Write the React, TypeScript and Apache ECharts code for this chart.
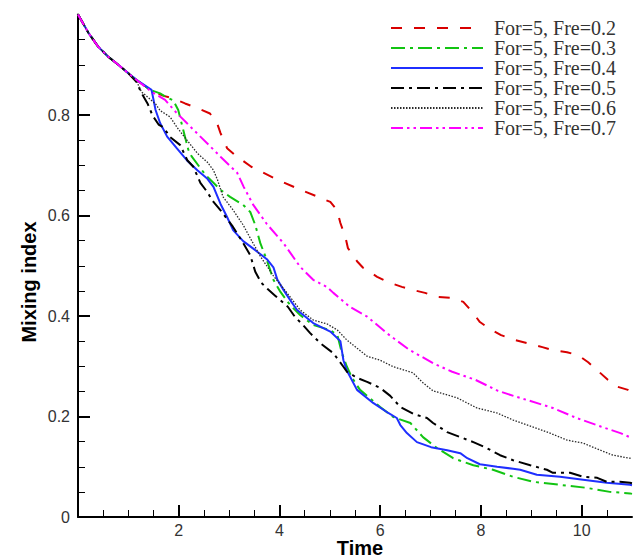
import React, { useEffect, useRef } from "react";
import * as echarts from "echarts";

const SERIES_NAMES = [
  "For=5, Fre=0.2",
  "For=5, Fre=0.3",
  "For=5, Fre=0.4",
  "For=5, Fre=0.5",
  "For=5, Fre=0.6",
  "For=5, Fre=0.7",
];

const X_TICK_LABELS = [2, 4, 6, 8, 10];
const Y_TICK_LABELS = [0, 0.2, 0.4, 0.6, 0.8];

// shared initial decay (all runs coincide)
const commonStart: [number, number][] = [
  [0, 1.0], [0.21, 0.963], [0.4, 0.936], [0.6, 0.916], [0.8, 0.9], [1.0, 0.883],
];

const fre02: [number, number][] = [
  [1.16, 0.87], [1.46, 0.848], [1.7, 0.838], [1.89, 0.833], [2.125, 0.823], [2.39, 0.813],
  [2.62, 0.803], [2.76, 0.784], [2.83, 0.764], [2.96, 0.734], [3.12, 0.72], [3.44, 0.697],
  [3.92, 0.673], [4.42, 0.651], [4.77, 0.637], [5.01, 0.627], [5.14, 0.611], [5.21, 0.585],
  [5.31, 0.557], [5.36, 0.535], [5.54, 0.509], [5.66, 0.496], [5.94, 0.478], [6.14, 0.468],
  [6.43, 0.458], [6.64, 0.452], [6.89, 0.446], [7.13, 0.438], [7.43, 0.436], [7.65, 0.428],
  [7.83, 0.408], [7.98, 0.388], [8.18, 0.374], [8.4, 0.362], [8.68, 0.352], [8.92, 0.346],
  [9.22, 0.338], [9.43, 0.332], [9.71, 0.328], [9.93, 0.322], [10.13, 0.308], [10.3, 0.293],
  [10.52, 0.273], [10.72, 0.259], [10.92, 0.253], [11, 0.249],
];

const fre03: [number, number][] = [
  [1.16, 0.87], [1.43, 0.85], [1.63, 0.843], [1.75, 0.836], [1.89, 0.829], [1.99, 0.81],
  [2.09, 0.77], [2.19, 0.731], [2.26, 0.717], [2.53, 0.681], [2.83, 0.651], [3.02, 0.637],
  [3.28, 0.621], [3.42, 0.607], [3.52, 0.581], [3.62, 0.545], [3.75, 0.511], [3.88, 0.472],
  [4.02, 0.448], [4.21, 0.422], [4.41, 0.402], [4.67, 0.382], [5.01, 0.372], [5.15, 0.362],
  [5.24, 0.326], [5.34, 0.299], [5.44, 0.277], [5.6, 0.253], [6.0, 0.219], [6.26, 0.199],
  [6.6, 0.187], [6.85, 0.159], [7.13, 0.137], [7.45, 0.117], [7.85, 0.103], [8.24, 0.094],
  [8.64, 0.08], [9.04, 0.07], [9.57, 0.064], [10.1, 0.058], [10.56, 0.05], [10.96, 0.047],
  [11, 0.046],
];

const fre04: [number, number][] = [
  [1.16, 0.87], [1.46, 0.85], [1.54, 0.81], [1.63, 0.784], [1.77, 0.757], [1.96, 0.734],
  [2.16, 0.71], [2.37, 0.69], [2.57, 0.673], [2.69, 0.657], [2.83, 0.623], [2.96, 0.597],
  [3.08, 0.571], [3.28, 0.549], [3.52, 0.531], [3.75, 0.513], [3.88, 0.497], [3.96, 0.472],
  [4.08, 0.452], [4.21, 0.432], [4.35, 0.412], [4.67, 0.386], [5.01, 0.369], [5.21, 0.35],
  [5.27, 0.312], [5.34, 0.291], [5.54, 0.253], [5.86, 0.227], [6.16, 0.207], [6.33, 0.197],
  [6.4, 0.183], [6.53, 0.167], [6.73, 0.149], [7.01, 0.139], [7.33, 0.133], [7.59, 0.127],
  [7.73, 0.117], [7.98, 0.105], [8.32, 0.1], [8.64, 0.096], [8.78, 0.094], [9.11, 0.084],
  [9.57, 0.08], [10.03, 0.074], [10.5, 0.068], [10.96, 0.064], [11, 0.063],
];

const fre05: [number, number][] = [
  [1.16, 0.866], [1.26, 0.844], [1.38, 0.823], [1.48, 0.799], [1.6, 0.781], [1.7, 0.775],
  [1.83, 0.756], [2.03, 0.74], [2.17, 0.71], [2.29, 0.697], [2.43, 0.665], [2.55, 0.649],
  [2.69, 0.627], [2.84, 0.609], [3.06, 0.58], [3.28, 0.545], [3.42, 0.521], [3.52, 0.488],
  [3.64, 0.466], [3.76, 0.454], [3.92, 0.44], [4.17, 0.418], [4.31, 0.398], [4.47, 0.382],
  [4.61, 0.366], [4.81, 0.346], [5.07, 0.326], [5.27, 0.299], [5.34, 0.289], [5.54, 0.277],
  [5.74, 0.269], [6.0, 0.257], [6.2, 0.241], [6.4, 0.219], [6.66, 0.205], [6.93, 0.197],
  [7.05, 0.187], [7.33, 0.169], [7.59, 0.159], [7.85, 0.149], [8.12, 0.137], [8.38, 0.123],
  [8.64, 0.113], [8.98, 0.103], [9.31, 0.094], [9.43, 0.088], [9.77, 0.088], [10.03, 0.08],
  [10.31, 0.078], [10.5, 0.07], [10.76, 0.07], [10.96, 0.068], [11, 0.067],
];

const fre06: [number, number][] = [
  [1.16, 0.868], [1.26, 0.846], [1.38, 0.836], [1.54, 0.822], [1.63, 0.809], [1.83, 0.796],
  [1.97, 0.775], [2.17, 0.749], [2.37, 0.724], [2.57, 0.706], [2.69, 0.69], [2.77, 0.671],
  [2.88, 0.637], [3.08, 0.611], [3.28, 0.581], [3.42, 0.555], [3.62, 0.519], [3.88, 0.48],
  [4.15, 0.446], [4.41, 0.412], [4.67, 0.392], [4.95, 0.384], [5.15, 0.372], [5.34, 0.352],
  [5.74, 0.32], [6.0, 0.312], [6.26, 0.299], [6.65, 0.287], [6.85, 0.267], [7.05, 0.251],
  [7.33, 0.243], [7.53, 0.237], [7.92, 0.217], [8.32, 0.207], [8.64, 0.193], [9.04, 0.179],
  [9.37, 0.167], [9.71, 0.153], [10.03, 0.147], [10.37, 0.133], [10.62, 0.123], [10.96, 0.117],
  [11, 0.116],
];

const fre07: [number, number][] = [
  [1.16, 0.87], [1.46, 0.846], [1.73, 0.83], [1.95, 0.805], [2.16, 0.784], [2.43, 0.757],
  [2.83, 0.717], [3.16, 0.685], [3.29, 0.657], [3.48, 0.621], [3.75, 0.583], [4.08, 0.545],
  [4.41, 0.498], [4.67, 0.472], [4.94, 0.458], [5.07, 0.446], [5.4, 0.418], [5.74, 0.399],
  [6.13, 0.366], [6.56, 0.334], [7.05, 0.306], [7.43, 0.289], [7.89, 0.273], [8.34, 0.251],
  [8.71, 0.239], [8.91, 0.233], [9.43, 0.217], [9.9, 0.197], [10.38, 0.18], [10.77, 0.167],
  [11, 0.157],
];

const SERIES_DATA = [fre02, fre03, fre04, fre05, fre06, fre07];

const STYLES = [
  { color: "#d80000", width: 2, type: [11, 12] },
  { color: "#12c412", width: 2, type: [14, 5, 3, 5] },
  { color: "#1f2fff", width: 2, type: "solid" },
  { color: "#000000", width: 2, type: [13, 5, 3, 5] },
  { color: "#2a2a2a", width: 1.3, type: [1.5, 1.5] },
  { color: "#ff00ff", width: 2, type: [12, 4, 2.5, 4, 2.5, 4] },
];

export default function App() {
  const ref = useRef<HTMLDivElement>(null);

  useEffect(() => {
    if (!ref.current) return;
    const chart = echarts.init(ref.current, null, { renderer: "svg" });
    const axisFont = "Liberation Sans";
    chart.setOption({
      animation: false,
      backgroundColor: "#ffffff",
      grid: { left: 78, right: 8, top: 14.5, bottom: 43, containLabel: false },
      xAxis: {
        type: "value",
        min: 0,
        max: 11,
        interval: 2,
        splitLine: { show: false },
        axisLine: { show: true, lineStyle: { color: "#000", width: 2 } },
        axisTick: {
          show: true,
          inside: true,
          length: 12,
          lineStyle: { color: "#000", width: 2 },
          customValues: X_TICK_LABELS,
        },
        minorTick: { show: true, splitNumber: 4, length: 7, lineStyle: { color: "#000", width: 1 } },
        axisLabel: {
          show: true,
          margin: 5,
          color: "#333",
          fontFamily: axisFont,
          fontSize: 16,
          customValues: X_TICK_LABELS,
          formatter: (v: number) => String(v),
        },
      },
      yAxis: {
        type: "value",
        min: 0,
        max: 1,
        interval: 0.2,
        splitLine: { show: false },
        axisLine: { show: true, lineStyle: { color: "#000", width: 2 } },
        axisTick: {
          show: true,
          inside: true,
          length: 12,
          lineStyle: { color: "#000", width: 2 },
          customValues: Y_TICK_LABELS,
        },
        minorTick: { show: true, splitNumber: 4, length: 7, lineStyle: { color: "#000", width: 1 } },
        axisLabel: {
          show: true,
          margin: 8,
          color: "#333",
          fontFamily: axisFont,
          fontSize: 16,
          customValues: Y_TICK_LABELS,
          formatter: (v: number) => (v === 0 ? "0" : v.toFixed(1)),
        },
      },
      legend: {
        orient: "vertical",
        left: 390,
        top: 18,
        padding: 0,
        itemWidth: 92,
        itemHeight: 10,
        itemGap: 0,
        icon: "inherit",
        itemStyle: { opacity: 0 },
        selectedMode: false,
        data: SERIES_NAMES,
        textStyle: {
          fontFamily: "Liberation Serif",
          fontSize: 20,
          lineHeight: 19.4,
          color: "#333",
          padding: [0, 0, 0, 6],
        },
      },
      graphic: [
        {
          type: "text",
          x: 29,
          y: 282,
          rotation: Math.PI / 2,
          style: {
            text: "Mixing index",
            fill: "#000",
            font: 'bold 20px "Liberation Sans"',
            align: "center",
            verticalAlign: "middle",
          },
        },
        {
          type: "text",
          x: 360,
          y: 548,
          style: {
            text: "Time",
            fill: "#000",
            font: 'bold 20px "Liberation Sans"',
            align: "center",
            verticalAlign: "middle",
          },
        },
      ],
      series: SERIES_NAMES.map((name, i) => ({
        name,
        type: "line",
        data: [...commonStart, ...SERIES_DATA[i]],
        symbol: "none",
        showSymbol: false,
        clip: true,
        color: STYLES[i].color,
        lineStyle: { color: STYLES[i].color, width: STYLES[i].width, type: STYLES[i].type },
      })),
    });
    return () => chart.dispose();
  }, []);

  return (
    <div
      ref={ref}
      style={{ position: "fixed", left: 0, top: 0, width: 640, height: 560 }}
    />
  );
}
